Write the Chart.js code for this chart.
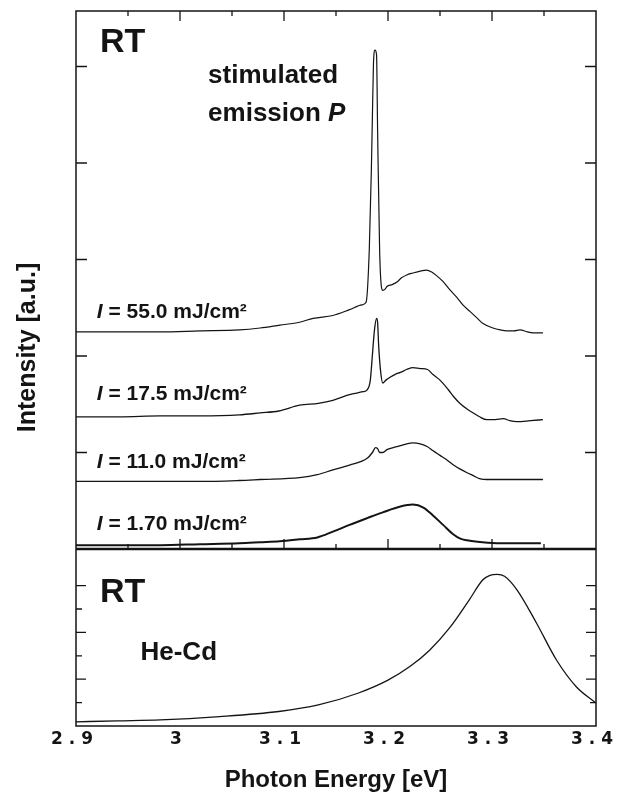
<!DOCTYPE html>
<html lang="en">
<head>
<meta charset="UTF-8">
<title>Photoluminescence spectra</title>
<script src="https://cdn.jsdelivr.net/npm/chart.js"></script>
<style>
  body { margin: 0; background: #fff; }
  canvas { display: block; }
</style>
</head>
<body>
<canvas id="spectra" width="622" height="792"></canvas>
<script>
// x tick labels, spaced like the printed figure
const energyTickLabels = ['2 . 9', '3', '3 . 1', '3 . 2', '3 . 3', '3 . 4'];
const fluences = ['55.0', '17.5', '11.0', '1.70'];   // mJ/cm2

// pulsed excitation, spectra shifted vertically (upper panel)
const e550 = [2.900, 2.942, 2.981, 3.019, 3.057, 3.077, 3.096, 3.115, 3.128, 3.147, 3.163, 3.175, 3.179, 3.182, 3.184, 3.185, 3.186, 3.1875, 3.189, 3.190, 3.192, 3.195, 3.197, 3.199, 3.204, 3.209, 3.213, 3.218, 3.224, 3.231, 3.237, 3.242, 3.247, 3.253, 3.260, 3.266, 3.272, 3.279, 3.286, 3.291, 3.301, 3.308, 3.314, 3.321, 3.327, 3.334, 3.339, 3.349];
const i550 = [2.25, 2.25, 2.25, 2.26, 2.27, 2.29, 2.32, 2.35, 2.39, 2.42, 2.48, 2.53, 2.56, 3.10, 3.93, 4.48, 5.02, 5.17, 5.12, 4.34, 3.07, 2.68, 2.69, 2.72, 2.74, 2.77, 2.81, 2.84, 2.86, 2.88, 2.89, 2.87, 2.83, 2.77, 2.68, 2.61, 2.53, 2.46, 2.39, 2.34, 2.29, 2.27, 2.26, 2.26, 2.27, 2.25, 2.24, 2.24];

const e175 = [2.900, 2.942, 2.981, 3.019, 3.057, 3.077, 3.095, 3.115, 3.133, 3.147, 3.163, 3.176, 3.180, 3.183, 3.185, 3.187, 3.189, 3.190, 3.191, 3.193, 3.195, 3.198, 3.202, 3.207, 3.212, 3.218, 3.224, 3.231, 3.238, 3.243, 3.250, 3.258, 3.263, 3.269, 3.276, 3.282, 3.288, 3.295, 3.303, 3.311, 3.317, 3.324, 3.337, 3.349];
const i175 = [1.37, 1.37, 1.38, 1.38, 1.39, 1.41, 1.43, 1.49, 1.51, 1.54, 1.60, 1.63, 1.65, 1.75, 2.01, 2.27, 2.39, 2.35, 2.11, 1.83, 1.72, 1.75, 1.78, 1.81, 1.83, 1.86, 1.88, 1.87, 1.86, 1.81, 1.75, 1.65, 1.58, 1.51, 1.45, 1.41, 1.37, 1.34, 1.34, 1.35, 1.33, 1.32, 1.33, 1.34];

const e110 = [2.900, 2.942, 2.981, 3.019, 3.057, 3.077, 3.115, 3.132, 3.147, 3.163, 3.180, 3.185, 3.188, 3.190, 3.192, 3.195, 3.199, 3.205, 3.212, 3.218, 3.224, 3.231, 3.238, 3.243, 3.250, 3.257, 3.263, 3.269, 3.276, 3.282, 3.288, 3.298, 3.308, 3.317, 3.327, 3.337, 3.349];
const i110 = [0.70, 0.70, 0.70, 0.70, 0.71, 0.72, 0.74, 0.77, 0.82, 0.87, 0.94, 1.00, 1.05, 1.04, 1.00, 1.00, 1.03, 1.05, 1.07, 1.09, 1.10, 1.09, 1.06, 1.02, 0.97, 0.92, 0.87, 0.83, 0.79, 0.76, 0.73, 0.72, 0.72, 0.72, 0.72, 0.72, 0.72];

const e170 = [2.900, 2.942, 2.981, 3.019, 3.057, 3.077, 3.096, 3.115, 3.132, 3.147, 3.163, 3.180, 3.195, 3.212, 3.224, 3.234, 3.243, 3.253, 3.263, 3.269, 3.276, 3.291, 3.308, 3.324, 3.337, 3.347];
const i170 = [0.04, 0.04, 0.04, 0.05, 0.06, 0.07, 0.08, 0.10, 0.12, 0.18, 0.25, 0.32, 0.38, 0.44, 0.46, 0.43, 0.35, 0.25, 0.15, 0.11, 0.09, 0.07, 0.06, 0.06, 0.06, 0.06];

// He-Cd cw excitation (lower panel)
const eHeCd = [2.900, 2.940, 2.981, 3.038, 3.095, 3.133, 3.171, 3.200, 3.221, 3.240, 3.259, 3.278, 3.291, 3.298, 3.305, 3.312, 3.324, 3.343, 3.362, 3.381, 3.400];
const iHeCd = [0.09, 0.11, 0.13, 0.20, 0.31, 0.45, 0.70, 0.98, 1.27, 1.62, 2.09, 2.69, 3.12, 3.22, 3.24, 3.20, 2.91, 2.19, 1.41, 0.84, 0.49];

const ink = '#141414';
const pts = (E, I) => E.map((e, k) => ({x: e, y: I[k]}));
const line = (E, I, axis, w) => ({
  data: pts(E, I), yAxisID: axis, borderColor: ink, borderWidth: w,
  pointRadius: 0, cubicInterpolationMode: 'monotone', fill: false
});

// frame, inward ticks and the in-plot text
const panelDecor = {
  id: 'panelDecor',
  afterDraw(chart) {
    const {ctx} = chart;
    const {x, yt, yb} = chart.scales;
    const L = x.left, R = x.right, T = yt.top, M = yt.bottom, B = yb.bottom;
    ctx.save();
    ctx.strokeStyle = ink;
    ctx.lineWidth = 1.5;
    ctx.strokeRect(L, T, R - L, B - T);
    ctx.lineWidth = 2.5;
    ctx.beginPath(); ctx.moveTo(L, M); ctx.lineTo(R, M); ctx.stroke();

    ctx.lineWidth = 1.3;
    ctx.beginPath();
    const xv = x.ticks.map(t => t.value);
    for (let k = 0; k < xv.length; k++) {
      if (k > 0 && k < xv.length - 1) {
        const px = x.getPixelForValue(xv[k]);
        ctx.moveTo(px, T); ctx.lineTo(px, T + 10);
        ctx.moveTo(px, M); ctx.lineTo(px, M - 10);
      }
      if (k < xv.length - 1) {
        const px = x.getPixelForValue((xv[k] + xv[k + 1]) / 2);
        ctx.moveTo(px, T); ctx.lineTo(px, T + 5);
        ctx.moveTo(px, M); ctx.lineTo(px, M - 5);
      }
    }
    yt.ticks.forEach(t => {
      if (t.value <= 0 || !Number.isInteger(t.value)) return;
      const py = yt.getPixelForValue(t.value);
      ctx.moveTo(L, py); ctx.lineTo(L + 11, py);
      ctx.moveTo(R, py); ctx.lineTo(R - 11, py);
    });
    yb.ticks.forEach(t => {
      if (t.value <= 0 || !Number.isInteger(t.value * 2)) return;
      const len = Number.isInteger(t.value) ? 10 : 6;
      const py = yb.getPixelForValue(t.value);
      ctx.moveTo(L, py); ctx.lineTo(L + len, py);
      ctx.moveTo(R, py); ctx.lineTo(R - len, py);
    });
    ctx.stroke();

    ctx.fillStyle = ink;
    ctx.textBaseline = 'alphabetic';
    ctx.textAlign = 'left';
    const sans = '"Liberation Sans", Arial, sans-serif';

    ctx.font = `bold 34px ${sans}`;
    ctx.fillText('RT', x.getPixelForValue(2.923), yt.getPixelForValue(5.15));
    ctx.fillText('RT', x.getPixelForValue(2.923), yb.getPixelForValue(2.65));

    ctx.font = `bold 26px ${sans}`;
    const sx = x.getPixelForValue(3.027);
    ctx.fillText('stimulated', sx, yt.getPixelForValue(4.83));
    const ey = yt.getPixelForValue(4.44);
    ctx.fillText('emission ', sx, ey);
    const w = ctx.measureText('emission ').width;
    ctx.font = `italic bold 26px ${sans}`;
    ctx.fillText('P', sx + w, ey);

    ctx.font = `bold 26px ${sans}`;
    ctx.fillText('He-Cd', x.getPixelForValue(2.962), yb.getPixelForValue(1.41));

    const labelY = [2.39, 1.54, 0.84, 0.20];
    const lx = x.getPixelForValue(2.920);
    fluences.forEach((f, k) => {
      const ly = yt.getPixelForValue(labelY[k]);
      ctx.font = `italic bold 21px ${sans}`;
      ctx.fillText('I', lx, ly);
      const iw = ctx.measureText('I ').width;
      ctx.font = `bold 21px ${sans}`;
      ctx.fillText(`= ${f} mJ/cm\u00B2`, lx + iw, ly);
    });

    // shared y title, centred on both panels as in the figure
    ctx.translate(28, (T + B) / 2 - 21);
    ctx.rotate(-Math.PI / 2);
    ctx.textAlign = 'center';
    ctx.textBaseline = 'middle';
    ctx.font = `bold 25px ${sans}`;
    ctx.fillText('Intensity [a.u.]', 0, 0);
    ctx.restore();
  }
};

new Chart(document.getElementById('spectra'), {
  type: 'line',
  data: {
    datasets: [
      line(e550, i550, 'yt', 1.2),
      line(e175, i175, 'yt', 1.3),
      line(e110, i110, 'yt', 1.3),
      line(e170, i170, 'yt', 2),
      line(eHeCd, iHeCd, 'yb', 1.3)
    ]
  },
  options: {
    responsive: false,
    animation: false,
    layout: { padding: { left: 76, right: 26, top: 11, bottom: 0 } },
    plugins: { legend: { display: false }, tooltip: { enabled: false } },
    scales: {
      x: {
        type: 'linear',
        min: 2.9,
        max: 3.4,
        grid: { display: false, drawTicks: false },
        border: { display: false },
        ticks: {
          stepSize: 0.1,
          padding: 3,
          labelOffset: -4,
          maxRotation: 0,
          autoSkip: false,
          color: ink,
          font: { family: '"DejaVu Sans"', weight: 'bold', size: 17 },
          callback: v => energyTickLabels[Math.round((v - 2.9) * 10)] ?? ''
        },
        title: {
          display: true,
          text: 'Photon Energy [eV]',
          color: ink,
          padding: 0,
          font: { family: '"Liberation Sans", Arial', weight: 'bold', size: 24, lineHeight: 1 }
        },
        afterFit: s => { s.height = 66; }
      },
      // lower panel first: stacked left axes are placed in reverse order
      yb: {
        type: 'linear',
        position: 'left',
        stack: 'panels',
        stackWeight: 177,
        min: 0,
        max: 3.782,
        grid: { display: false, drawTicks: false },
        border: { display: false },
        ticks: { display: false, stepSize: 0.5 }
      },
      yt: {
        type: 'linear',
        position: 'left',
        stack: 'panels',
        stackWeight: 538,
        min: 0,
        max: 5.575,
        grid: { display: false, drawTicks: false },
        border: { display: false },
        ticks: { display: false, stepSize: 1 }
      }
    }
  },
  plugins: [panelDecor]
});
</script>
</body>
</html>
